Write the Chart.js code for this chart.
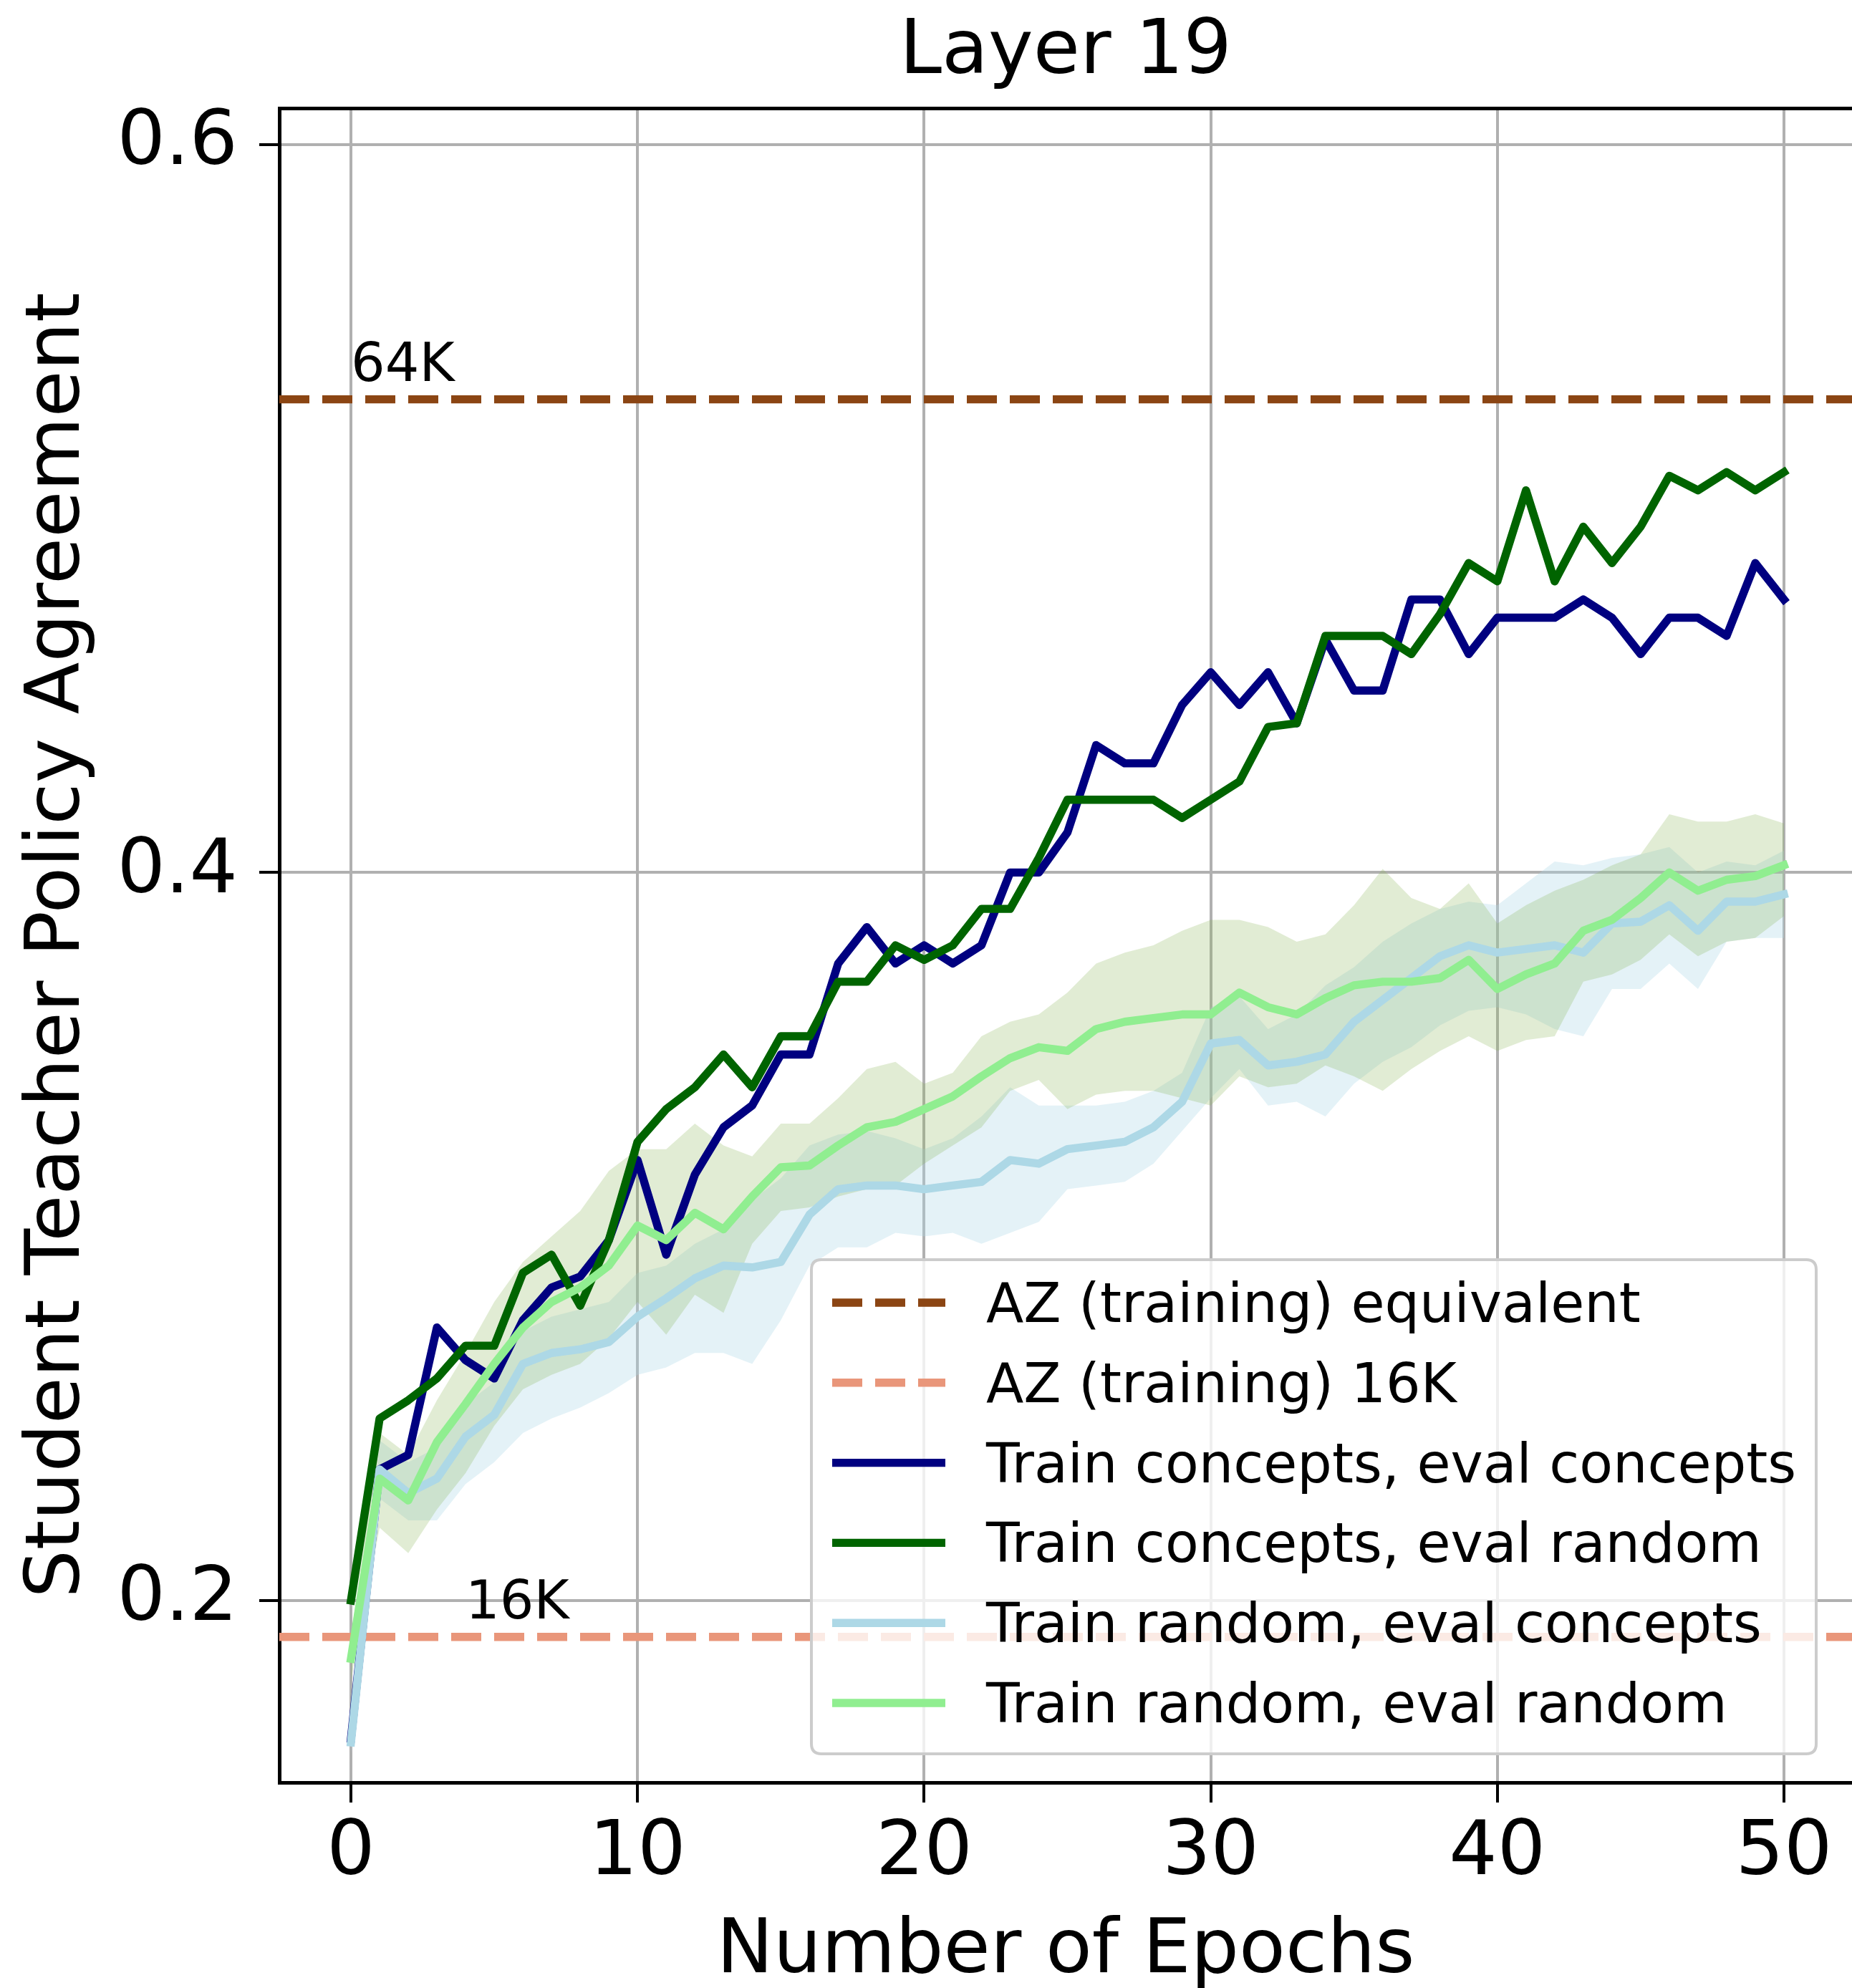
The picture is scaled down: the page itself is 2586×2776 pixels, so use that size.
<!DOCTYPE html>
<html><head><meta charset="utf-8">
<script src="https://cdn.jsdelivr.net/npm/chart.js@4.4.1/dist/chart.umd.min.js"></script>
<style>html,body{margin:0;padding:0;background:#fff;}canvas{display:block;}</style>
</head><body>
<canvas id="c" width="2586" height="2776"></canvas>
<script>
// ---------------- data ----------------
const epochs = [0,1,2,3,4,5,6,7,8,9,10,11,12,13,14,15,16,17,18,19,20,21,22,23,24,25,26,27,28,29,30,31,32,33,34,35,36,37,38,39,40,41,42,43,44,45,46,47,48,49,50];
const xTicks = [0,10,20,30,40,50];
const yTicks = [0.2,0.4,0.6];

const trainConceptsEvalConcepts = [0.162,0.236,0.240,0.275,0.266,0.261,0.277,0.286,0.289,0.299,0.321,
  0.295,0.317,0.330,0.336,0.350,0.350,0.375,0.385,0.375,0.380,
  0.375,0.380,0.400,0.400,0.411,0.435,0.430,0.430,0.446,0.455,
  0.446,0.455,0.441,0.464,0.450,0.450,0.475,0.475,0.460,0.470,
  0.470,0.470,0.475,0.470,0.460,0.470,0.470,0.465,0.485,0.475];
const trainConceptsEvalRandom = [0.200,0.250,0.255,0.261,0.270,0.270,0.290,0.295,0.281,0.299,0.326,
  0.335,0.341,0.350,0.341,0.355,0.355,0.370,0.370,0.380,0.376,
  0.380,0.390,0.390,0.404,0.420,0.420,0.420,0.420,0.415,0.420,
  0.425,0.440,0.441,0.465,0.465,0.465,0.460,0.471,0.485,0.480,
  0.505,0.480,0.495,0.485,0.495,0.509,0.505,0.510,0.505,0.510];
const trainRandomEvalConcepts = [0.161,0.236,0.2295,0.2335,0.245,0.251,0.265,0.268,0.269,0.271,0.278,
  0.283,0.2885,0.292,0.2915,0.293,0.306,0.313,0.314,0.314,0.313,
  0.314,0.315,0.321,0.320,0.324,0.325,0.326,0.330,0.337,0.353,
  0.354,0.347,0.348,0.350,0.359,0.365,0.371,0.377,0.380,0.378,
  0.379,0.380,0.378,0.386,0.3865,0.391,0.384,0.392,0.392,0.394];
const trainRandomEvalConceptsLow = [0.158,0.228,0.222,0.222,0.232,0.238,0.246,0.250,0.253,0.257,0.262,
  0.264,0.268,0.268,0.265,0.277,0.292,0.297,0.297,0.301,0.300,
  0.301,0.298,0.301,0.304,0.313,0.314,0.315,0.320,0.329,0.338,
  0.346,0.336,0.337,0.333,0.342,0.348,0.352,0.358,0.362,0.363,
  0.361,0.357,0.355,0.368,0.368,0.375,0.368,0.381,0.382,0.382];
const trainRandomEvalConceptsHigh = [0.164,0.244,0.238,0.242,0.254,0.260,0.274,0.278,0.280,0.282,0.290,
  0.292,0.298,0.302,0.310,0.316,0.325,0.328,0.329,0.327,0.324,
  0.327,0.333,0.341,0.336,0.336,0.336,0.337,0.340,0.345,0.363,
  0.366,0.357,0.361,0.369,0.374,0.381,0.386,0.390,0.392,0.391,
  0.397,0.403,0.402,0.404,0.405,0.407,0.400,0.403,0.402,0.406];
const trainRandomEvalRandom = [0.184,0.2335,0.2275,0.2435,0.254,0.265,0.275,0.282,0.286,0.292,0.303,
  0.299,0.3065,0.302,0.311,0.319,0.3195,0.325,0.330,0.3315,0.335,
  0.3385,0.344,0.349,0.352,0.351,0.357,0.359,0.360,0.361,0.361,
  0.367,0.363,0.361,0.3655,0.369,0.370,0.370,0.371,0.376,0.368,
  0.372,0.375,0.384,0.387,0.393,0.400,0.395,0.398,0.399,0.402];
const trainRandomEvalRandomLow = [0.178,0.220,0.213,0.225,0.235,0.248,0.258,0.262,0.265,0.272,0.282,
  0.273,0.284,0.279,0.298,0.307,0.308,0.311,0.313,0.314,0.320,
  0.325,0.330,0.340,0.343,0.335,0.339,0.340,0.340,0.338,0.336,
  0.344,0.341,0.342,0.347,0.344,0.340,0.346,0.351,0.355,0.351,
  0.354,0.355,0.370,0.372,0.376,0.383,0.377,0.381,0.382,0.388];
const trainRandomEvalRandomHigh = [0.190,0.246,0.240,0.255,0.268,0.282,0.293,0.300,0.307,0.318,0.324,
  0.324,0.331,0.325,0.322,0.331,0.331,0.338,0.346,0.348,0.342,
  0.345,0.355,0.359,0.361,0.367,0.375,0.378,0.380,0.384,0.387,
  0.387,0.385,0.381,0.383,0.391,0.401,0.393,0.390,0.397,0.386,
  0.391,0.395,0.398,0.402,0.405,0.416,0.414,0.414,0.416,0.4135];

const azEquivalent = 0.530;   // 64K
const az16K = 0.190;          // 16K
const refLabels = ['64K', '16K'];
const refLabelX = [0, 4];
const refLabelY = [0.535, 0.195];

const seriesLabels = ['AZ (training) equivalent', 'AZ (training) 16K',
  'Train concepts, eval concepts', 'Train concepts, eval random',
  'Train random, eval concepts', 'Train random, eval random'];

// ---------------- style ----------------
const FONT = "'DejaVu Sans', 'Liberation Sans', sans-serif";
const xMin = -2.5, xMax = 52.375, yMin = 0.150, yMax = 0.610;
const LW = 11.4;
const DASH = [42, 18];
const LEG_FONT = 76.5;

const xy = arr => arr.map((v, i) => ({x: epochs[i], y: v}));
const hline = v => [{x: xMin, y: v}, {x: xMax, y: v}];

const datasets = [
  // bands (fills below all lines)
  {data: xy(trainRandomEvalConceptsLow), borderWidth: 0, pointRadius: 0, fill: false, order: 20},
  {data: xy(trainRandomEvalConceptsHigh), borderWidth: 0, pointRadius: 0, fill: '-1',
   backgroundColor: 'rgba(173,216,230,0.33)', order: 19},
  {data: xy(trainRandomEvalRandomLow), borderWidth: 0, pointRadius: 0, fill: false, order: 18},
  {data: xy(trainRandomEvalRandomHigh), borderWidth: 0, pointRadius: 0, fill: '-1',
   backgroundColor: 'rgba(135,180,85,0.25)', order: 17},
  // reference lines
  {label: seriesLabels[0], legend: true, data: hline(azEquivalent), borderColor: '#8B4513', borderWidth: LW,
   borderDash: DASH, borderCapStyle: 'butt', fill: false, order: 9},
  {label: seriesLabels[1], legend: true, data: hline(az16K), borderColor: '#E9967A', borderWidth: LW,
   borderDash: DASH, borderCapStyle: 'butt', fill: false, order: 8},
  // curves
  {label: seriesLabels[2], legend: true, data: xy(trainConceptsEvalConcepts), borderColor: '#000080', borderWidth: LW, fill: false, order: 7},
  {label: seriesLabels[3], legend: true, data: xy(trainConceptsEvalRandom), borderColor: '#006400', borderWidth: LW, fill: false, order: 6},
  {label: seriesLabels[4], legend: true, data: xy(trainRandomEvalConcepts), borderColor: '#ADD8E6', borderWidth: LW, fill: false, order: 5},
  {label: seriesLabels[5], legend: true, data: xy(trainRandomEvalRandom), borderColor: '#90EE90', borderWidth: LW, fill: false, order: 4}
];

const annotPlugin = {
  id: 'refText',
  afterDatasetsDraw(chart) {
    const {ctx, scales: {x, y}} = chart;
    ctx.save();
    ctx.font = `75px ${FONT}`;
    ctx.fillStyle = '#000';
    ctx.textAlign = 'left';
    ctx.textBaseline = 'alphabetic';
    refLabels.forEach((t, i) => ctx.fillText(t, x.getPixelForValue(refLabelX[i]), y.getPixelForValue(refLabelY[i])));
    ctx.restore();
  }
};

const legendPlugin = {
  id: 'mplLegend',
  afterDraw(chart) {
    const ctx = chart.ctx;
    const L = 1133, T = 1759, R = 2536, B = 2449, r = 14;
    ctx.save();
    ctx.beginPath();
    ctx.moveTo(L + r, T); ctx.lineTo(R - r, T); ctx.quadraticCurveTo(R, T, R, T + r);
    ctx.lineTo(R, B - r); ctx.quadraticCurveTo(R, B, R - r, B);
    ctx.lineTo(L + r, B); ctx.quadraticCurveTo(L, B, L, B - r);
    ctx.lineTo(L, T + r); ctx.quadraticCurveTo(L, T, L + r, T);
    ctx.closePath();
    ctx.fillStyle = 'rgba(255,255,255,0.8)';
    ctx.fill();
    ctx.strokeStyle = '#cccccc';
    ctx.lineWidth = 4;
    ctx.stroke();
    const items = chart.data.datasets.filter(d => d.legend);
    items.forEach((d, i) => {
      const cy = 1819 + i * 111.8;
      ctx.beginPath();
      ctx.setLineDash(d.borderDash || []);
      ctx.lineCap = 'butt';
      ctx.strokeStyle = d.borderColor;
      ctx.lineWidth = d.borderWidth;
      ctx.moveTo(1162, cy); ctx.lineTo(1320, cy);
      ctx.stroke();
      ctx.setLineDash([]);
      ctx.fillStyle = '#000';
      ctx.font = `${LEG_FONT}px ${FONT}`;
      ctx.textAlign = 'left';
      ctx.textBaseline = 'alphabetic';
      ctx.fillText(d.label, 1377, cy + 27);
    });
    ctx.restore();
  }
};

new Chart(document.getElementById('c'), {
  type: 'line',
  data: {datasets},
  options: {
    responsive: false, animation: false, devicePixelRatio: 1, events: [],
    layout: {padding: 0},
    elements: {point: {radius: 0, hoverRadius: 0}, line: {tension: 0, borderJoinStyle: 'round', borderCapStyle: 'square'}},
    plugins: {legend: {display: false}, tooltip: {enabled: false}, title: {display: false},
      filler: {drawTime: 'beforeDatasetsDraw', propagate: false}},
    scales: {
      x: {
        type: 'linear', position: 'bottom', min: xMin, max: xMax,
        afterBuildTicks: s => { s.ticks = xTicks.map(v => ({value: v})); },
        ticks: {font: {family: FONT, size: 106, lineHeight: 1.2}, color: '#000', padding: 9,
                maxRotation: 0, autoSkip: false, callback: v => String(v)},
        grid: {color: '#b0b0b0', lineWidth: 4, tickColor: '#000', tickWidth: 4, tickLength: 28},
        border: {display: true, color: '#000', width: 5},
        title: {display: true, text: 'Number of Epochs', color: '#000',
                font: {family: FONT, size: 106, lineHeight: 1}, padding: {top: 0, bottom: -3}},
        afterFit: s => { s.height = 287; }
      },
      x2: {
        type: 'linear', position: 'top', min: xMin, max: xMax,
        ticks: {display: false}, grid: {display: false},
        border: {display: true, color: '#000', width: 5},
        title: {display: true, text: 'Layer 19', color: '#000',
                font: {family: FONT, size: 106, lineHeight: 1}, padding: {top: 21, bottom: 0}},
        afterFit: s => { s.height = 151; }
      },
      y: {
        type: 'linear', position: 'left', min: yMin, max: yMax,
        afterBuildTicks: s => { s.ticks = yTicks.map(v => ({value: v})); },
        ticks: {font: {family: FONT, size: 106, lineHeight: 1.2}, color: '#000', padding: 30,
                autoSkip: false, callback: v => v.toFixed(1)},
        grid: {color: '#b0b0b0', lineWidth: 4, tickColor: '#000', tickWidth: 4, tickLength: 28},
        border: {display: true, color: '#000', width: 5},
        title: {display: true, text: 'Student Teacher Policy Agreement', color: '#000',
                font: {family: FONT, size: 106, lineHeight: 1}, padding: {top: 29, bottom: 0}},
        afterFit: s => { s.width = 390; }
      }
    }
  },
  plugins: [annotPlugin, legendPlugin]
});
</script>
</body></html>
